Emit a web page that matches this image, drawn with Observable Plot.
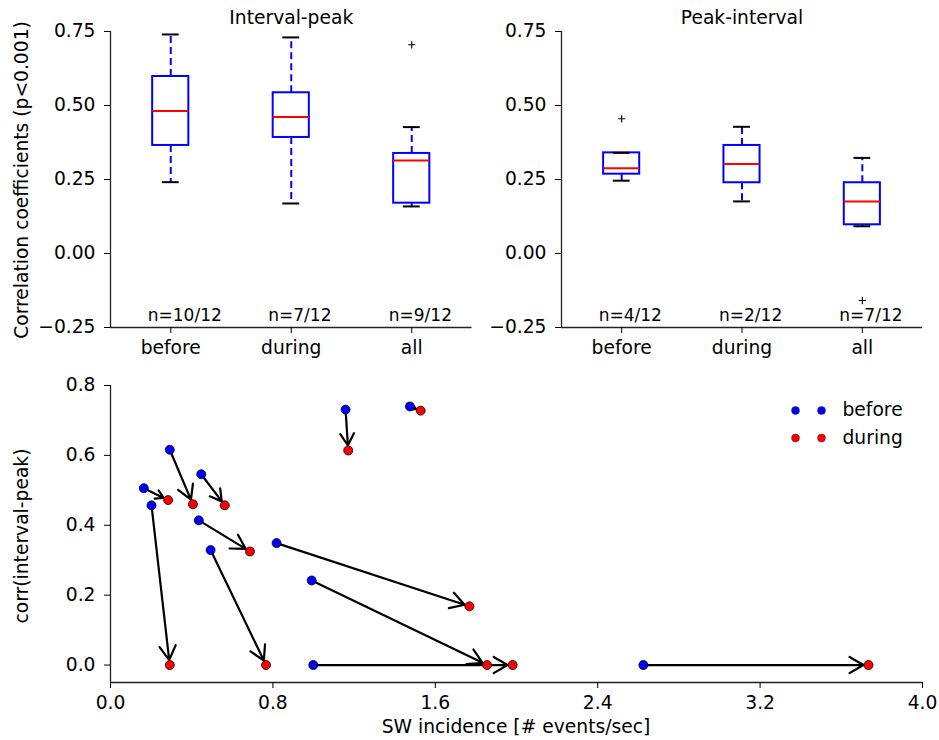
<!DOCTYPE html>
<html><head><meta charset="utf-8">
<script src="https://cdn.jsdelivr.net/npm/d3@7"></script>
<script src="https://cdn.jsdelivr.net/npm/@observablehq/plot@0.6"></script>
<style>
body{margin:0;background:#fff;}
#fig{position:relative;width:939px;height:740px;font-family:"DejaVu Sans",sans-serif;font-size:18.7px;color:#000;background:#fff;}
.panel{position:absolute;}
.lbl{position:absolute;white-space:nowrap;line-height:1;transform:translate(-50%,-50%);}
.rot{transform:translate(-50%,-50%) rotate(-90deg);}
</style></head><body><div id="fig"></div>
<script>
// ---------- data ----------
const categories = ["before", "during", "all"];

// Interval-peak box summaries
const ipLow = [0.241, 0.169, 0.159];
const ipQ1 = [0.365, 0.392, 0.170];
const ipMed = [0.481, 0.461, 0.314];
const ipQ3 = [0.598, 0.543, 0.338];
const ipHigh = [0.740, 0.730, 0.427];
const ipOutCat = ["all"];
const ipOutVal = [0.705];
const ipN = ["n=10/12", "n=7/12", "n=9/12"];

// Peak-interval box summaries
const piLow = [0.246, 0.176, 0.092];
const piQ1 = [0.268, 0.239, 0.097];
const piMed = [0.288, 0.302, 0.176];
const piQ3 = [0.340, 0.365, 0.239];
const piHigh = [0.340, 0.428, 0.323];
const piOutCat = ["before", "all"];
const piOutVal = [0.455, -0.159];
const piN = ["n=4/12", "n=2/12", "n=7/12"];

const boxYTicks = [-0.25, 0, 0.25, 0.5, 0.75];

// Scatter: SW incidence before/during and corr(interval-peak)
const beforeX = [1.158, 1.475, 0.292, 0.447, 0.164, 0.202, 0.435, 0.493, 0.818, 0.991, 0.999, 2.625];
const beforeY = [0.731, 0.740, 0.616, 0.546, 0.506, 0.457, 0.414, 0.329, 0.349, 0.242, 0.0, 0.0];
const duringX = [1.171, 1.528, 0.406, 0.563, 0.284, 0.292, 0.687, 0.766, 1.768, 1.855, 1.981, 3.734];
const duringY = [0.614, 0.728, 0.460, 0.457, 0.472, 0.0, 0.325, 0.0, 0.168, 0.0, 0.0, 0.0];
const scatterXTicks = [0, 0.8, 1.6, 2.4, 3.2, 4.0];
const scatterYTicks = [0, 0.2, 0.4, 0.6, 0.8];
const legendLabels = ["before", "during"];
const legendColors = ["blue", "red"];

// ---------- drawing ----------
const FS = 18.7;
const FONT = {fontFamily: "DejaVu Sans, sans-serif", fontSize: FS + "px", color: "black", background: "white", overflow: "visible"};
const fig = document.getElementById("fig");

// thin "+" marker symbol (matplotlib flier style)
const plusSymbol = {
  draw(ctx, size) {
    const r = Math.sqrt(size / Math.PI);
    ctx.moveTo(-r, 0); ctx.lineTo(r, 0);
    ctx.moveTo(0, -r); ctx.lineTo(0, r);
  }
};

function place(el, left, top) {
  const d = document.createElement("div");
  d.className = "panel";
  d.style.left = left + "px";
  d.style.top = top + "px";
  d.appendChild(el);
  fig.appendChild(d);
}
function label(text, x, y, rot) {
  const d = document.createElement("div");
  d.className = "lbl" + (rot ? " rot" : "");
  d.style.left = x + "px";
  d.style.top = y + "px";
  d.textContent = text;
  fig.appendChild(d);
}

function boxPanel(title, low, q1, med, q3, high, outCat, outVal, nLab, width, marginLeft, marginRight) {
  const rows = categories.map((c, i) => ({pos: i + 1, low: low[i], q1: q1[i], med: med[i], q3: q3[i], high: high[i], n: nLab[i]}));
  const outs = outCat.map((c, i) => ({pos: categories.indexOf(c) + 1, v: outVal[i]}));
  const hw = 0.15, cw = 0.07;
  return Plot.plot({
    width, height: 365, marginLeft, marginRight, marginTop: 31, marginBottom: 38,
    style: FONT,
    x: {domain: [0.5, 3.5]},
    y: {domain: [-0.25, 0.75]},
    marks: [
      Plot.ruleY([-0.25], {stroke: "#222", strokeWidth: 1.3}),
      Plot.ruleX([0.5], {stroke: "#222", strokeWidth: 1.3}),
      Plot.axisX({ticks: [1, 2, 3], tickFormat: d => categories[d - 1], tickSize: 6, tickPadding: 7, label: null}),
      Plot.axisY({ticks: boxYTicks, tickFormat: d3.format(".2f"), tickSize: 6, tickPadding: 9, label: null}),
      Plot.ruleX(rows, {x: "pos", y1: "q3", y2: "high", stroke: "blue", strokeWidth: 2, strokeDasharray: "7,4"}),
      Plot.ruleX(rows, {x: "pos", y1: "q1", y2: "low", stroke: "blue", strokeWidth: 2, strokeDasharray: "7,4"}),
      Plot.rect(rows, {x1: d => d.pos - hw, x2: d => d.pos + hw, y1: "q1", y2: "q3", fill: "none", stroke: "blue", strokeWidth: 2}),
      Plot.ruleY(rows, {y: "med", x1: d => d.pos - hw, x2: d => d.pos + hw, stroke: "red", strokeWidth: 2}),
      Plot.ruleY(rows, {y: "high", x1: d => d.pos - cw, x2: d => d.pos + cw, stroke: "black", strokeWidth: 2}),
      Plot.ruleY(rows, {y: "low", x1: d => d.pos - cw, x2: d => d.pos + cw, stroke: "black", strokeWidth: 2}),
      Plot.dot(outs, {x: "pos", y: "v", symbol: plusSymbol, r: 3.6, fill: "none", stroke: "black", strokeWidth: 1.1}),
      Plot.text(rows, {x: "pos", frameAnchor: "bottom", text: "n", textAnchor: "start", dx: -23, dy: -12, lineAnchor: "middle", fontSize: 17}),
      Plot.text([title], {frameAnchor: "top", dy: -13, lineAnchor: "middle", fontSize: FS})
    ]
  });
}

place(boxPanel("Interval-peak", ipLow, ipQ1, ipMed, ipQ3, ipHigh, ipOutCat, ipOutVal, ipN, 480, 110, 8.5), 0, 0);
place(boxPanel("Peak-interval", piLow, piQ1, piMed, piQ3, piHigh, piOutCat, piOutVal, piN, 459, 81, 17), 480, 0);

const pairs = beforeX.map((x, i) => ({bX: x, bY: beforeY[i], dX: duringX[i], dY: duringY[i]}));
const legendMarks = [];
legendLabels.forEach((lab, i) => {
  const dy = 25 + 27.5 * i;
  legendMarks.push(Plot.dot([lab], {frameAnchor: "top-right", dx: -127, dy, r: 4, fill: legendColors[i], stroke: "#333", strokeWidth: 0.5}));
  legendMarks.push(Plot.dot([lab], {frameAnchor: "top-right", dx: -101, dy, r: 4, fill: legendColors[i], stroke: "#333", strokeWidth: 0.5}));
  legendMarks.push(Plot.text([lab], {frameAnchor: "top-right", dx: -80, dy, text: d => d, textAnchor: "start", lineAnchor: "middle", fontSize: FS}));
});

const scatter = Plot.plot({
  width: 939, height: 380, marginLeft: 110, marginRight: 17, marginTop: 25, marginBottom: 58,
  style: FONT,
  x: {domain: [0, 4]},
  y: {domain: [-0.05, 0.8]},
  marks: [
    Plot.ruleY([-0.05], {stroke: "#222", strokeWidth: 1.3}),
    Plot.ruleX([0], {stroke: "#222", strokeWidth: 1.3}),
    Plot.axisX({ticks: scatterXTicks, tickFormat: d3.format(".1f"), tickSize: 6, tickPadding: 7, label: null}),
    Plot.axisY({ticks: scatterYTicks, tickFormat: d3.format(".1f"), tickSize: 6, tickPadding: 9, label: null}),
    Plot.arrow(pairs, {x1: "bX", y1: "bY", x2: "dX", y2: "dY", stroke: "black", strokeWidth: 2.2, headLength: 11, headAngle: 60, insetEnd: 5}),
    Plot.dot(pairs, {x: "bX", y: "bY", fill: "blue", stroke: "black", strokeWidth: 0.8, r: 4.5}),
    Plot.dot(pairs, {x: "dX", y: "dY", fill: "red", stroke: "black", strokeWidth: 0.8, r: 4.5}),
    ...legendMarks
  ]
});
place(scatter, 0, 360);

label("Correlation coefficients (p<0.001)", 22, 180, true);
label("corr(interval-peak)", 22, 536, true);
label("SW incidence [# events/sec]", 516, 727, false);
</script></body></html>
